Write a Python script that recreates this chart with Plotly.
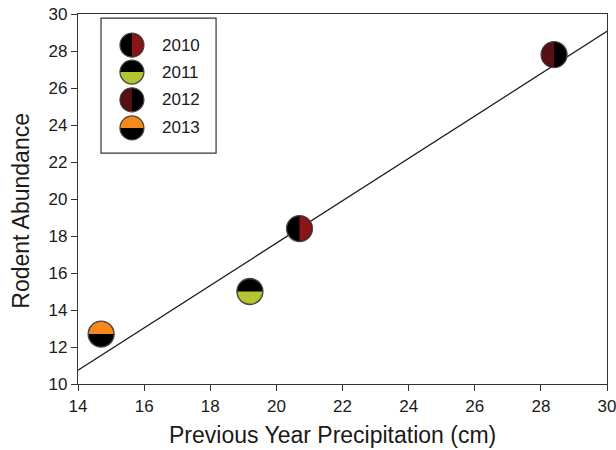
import numpy as np
import plotly.graph_objects as go

# Rodent abundance vs. previous-year precipitation, one point per year
years = ["2010", "2011", "2012", "2013"]
precip_cm = [20.7, 19.2, 28.4, 14.7]
rodents = [18.4, 15.0, 27.8, 12.7]

# Two-tone marker colours per year: (base colour, half colour, half side)
base_colors = ["#000000", "#000000", "#000000", "#000000"]
half_colors = ["#8a1518", "#b5c431", "#5a0f14", "#f5891f"]
half_sides = ["right", "bottom", "left", "top"]

x_ticks = list(range(14, 31, 2))
y_ticks = list(range(10, 31, 2))

x_title = "Previous Year Precipitation (cm)"
y_title = "Rodent Abundance"

K = 0.5523  # cubic bezier circle constant
OUTLINE = "#4a4a4a"
FONT = "Liberation Sans, Arial, sans-serif"
TEXT = "#1a1a1a"


def half_disk_path(r, side):
    """Half-disk as a pixel path (y up) built from two cubic bezier quarter arcs."""
    k = K * r
    if side == "right":
        return (f"M 0,{r} C {k},{r} {r},{k} {r},0 "
                f"C {r},{-k} {k},{-r} 0,{-r} Z")
    if side == "left":
        return (f"M 0,{r} C {-k},{r} {-r},{k} {-r},0 "
                f"C {-r},{-k} {-k},{-r} 0,{-r} Z")
    if side == "top":
        return (f"M {-r},0 C {-r},{k} {-k},{r} 0,{r} "
                f"C {k},{r} {r},{k} {r},0 Z")
    return (f"M {-r},0 C {-r},{-k} {-k},{-r} 0,{-r} "
            f"C {k},{-r} {r},{-k} {r},0 Z")


def full_disk_path(r):
    k = K * r
    return (f"M 0,{r} C {k},{r} {r},{k} {r},0 "
            f"C {r},{-k} {k},{-r} 0,{-r} "
            f"C {-k},{-r} {-r},{-k} {-r},0 "
            f"C {-r},{k} {-k},{r} 0,{r} Z")


fig = go.Figure()

# Least-squares regression line across the full x range
slope, intercept = np.polyfit(precip_cm, rodents, 1)
x_fit = np.array([x_ticks[0], x_ticks[-1]], dtype=float)
fig.add_trace(go.Scatter(
    x=x_fit, y=slope * x_fit + intercept, mode="lines",
    line=dict(color="#1a1a1a", width=1.3), hoverinfo="skip", showlegend=False,
))

# Circle markers in the base colour
fig.add_trace(go.Scatter(
    x=precip_cm, y=rodents, mode="markers", text=years,
    marker=dict(symbol="circle", size=26, color=base_colors,
                line=dict(color=OUTLINE, width=1.3)),
    hovertemplate="%{text}: %{x} cm, %{y}<extra></extra>",
    showlegend=False,
))

shapes = []
# Coloured half of each marker, anchored at the data value
for xv, yv, col, side in zip(precip_cm, rodents, half_colors, half_sides):
    shapes.append(dict(
        type="path", xref="x", yref="y", xsizemode="pixel", ysizemode="pixel",
        xanchor=xv, yanchor=yv, path=half_disk_path(12.3, side),
        fillcolor=col, line=dict(width=0), layer="above",
    ))

# Legend box
leg_x0, leg_x1, leg_y0, leg_y1 = 0.0435, 0.261, 0.624, 0.989
shapes.append(dict(type="rect", xref="paper", yref="paper",
                   x0=leg_x0, x1=leg_x1, y0=leg_y0, y1=leg_y1,
                   line=dict(color="#333333", width=1.2), fillcolor="white",
                   layer="above"))

leg_mx = 0.102
leg_ys = [0.916, 0.843, 0.768, 0.692]
annotations = []
for yr, ly, base, col, side in zip(years, leg_ys, base_colors, half_colors, half_sides):
    shapes.append(dict(
        type="path", xref="paper", yref="paper", xsizemode="pixel", ysizemode="pixel",
        xanchor=leg_mx, yanchor=ly, path=full_disk_path(12),
        fillcolor=base, line=dict(color=OUTLINE, width=1.2), layer="above",
    ))
    shapes.append(dict(
        type="path", xref="paper", yref="paper", xsizemode="pixel", ysizemode="pixel",
        xanchor=leg_mx, yanchor=ly, path=half_disk_path(11.4, side),
        fillcolor=col, line=dict(width=0), layer="above",
    ))
    annotations.append(dict(
        x=0.155, y=ly, xref="paper", yref="paper", text=yr, showarrow=False,
        xanchor="left", yanchor="middle",
        font=dict(family=FONT, size=17, color=TEXT),
    ))

# Axis titles
annotations.append(dict(
    x=0.482, y=-0.138, xref="paper", yref="paper", text=x_title, showarrow=False,
    xanchor="center", yanchor="middle", font=dict(family=FONT, size=23, color=TEXT),
))
annotations.append(dict(
    x=-0.108, y=0.468, xref="paper", yref="paper", text=y_title, showarrow=False,
    textangle=-90, xanchor="center", yanchor="middle",
    font=dict(family=FONT, size=23, color=TEXT),
))

axis_common = dict(
    showgrid=False, zeroline=False, showline=True, linecolor="#333333", linewidth=1.3,
    mirror=True, ticks="outside", ticklen=6, tickwidth=1.2, tickcolor="#333333",
    tickfont=dict(family=FONT, size=17, color=TEXT), automargin=False,
    ticklabeloverflow="allow",
)

fig.update_layout(
    width=616, height=450,
    margin=dict(l=78, r=9, t=14, b=66),
    paper_bgcolor="white", plot_bgcolor="white",
    shapes=shapes, annotations=annotations,
    xaxis=dict(range=[x_ticks[0], x_ticks[-1]], tickvals=x_ticks, **axis_common),
    yaxis=dict(range=[y_ticks[0], y_ticks[-1]], tickvals=y_ticks, **axis_common),
    showlegend=False,
)

fig.write_html("out.html")
